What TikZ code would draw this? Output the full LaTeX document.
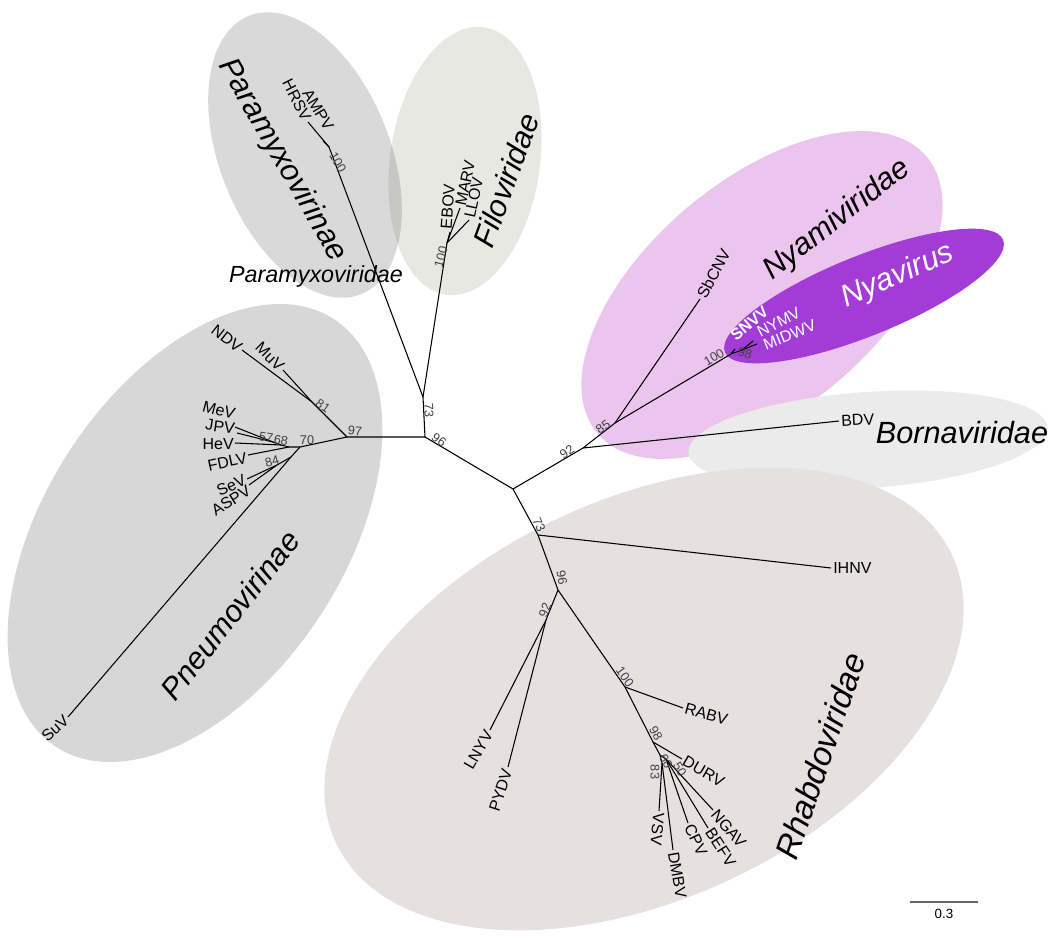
\documentclass[tikz,border=0pt]{standalone}
\usepackage{fontspec}
\setmainfont{Liberation Sans}
\usepackage{xcolor}
\definecolor{paragray}{RGB}{0,0,0}
\definecolor{filogray}{RGB}{110,110,80}
\definecolor{pneugray}{RGB}{215,215,215}
\definecolor{nyamipink}{RGB}{236,197,239}
\definecolor{nyapurple}{RGB}{163,60,214}
\definecolor{bornagray}{RGB}{235,235,235}
\definecolor{rhabdogray}{RGB}{230,225,224}

\begin{document}
\begin{tikzpicture}[x=0.75pt,y=0.75pt,yscale=-1,xscale=1,
  branch/.style={line width=0.8pt},
  leaf/.style={inner sep=1.5pt,font=\fontsize{12}{14}\selectfont},
  boot/.style={inner sep=0.5pt,text=black!75,font=\fontsize{9.5}{11}\selectfont},
  clade/.style={inner sep=0pt,font=\fontsize{23}{27}\selectfont\itshape}]
\useasboundingbox (0,0) rectangle (1048,942);

%Shape: Ellipse [Paramyxovirinae]
\fill [paragray,fill opacity=0.15,rotate around={68:(305,155)}] (305,155) ellipse (150 and 85);
%Shape: Ellipse [Filoviridae]
\fill [filogray,fill opacity=0.16,rotate around={98:(465,161)}] (465,161) ellipse (135 and 75);
%Shape: Ellipse [Pneumovirinae]
\fill [pneugray,rotate around={-57:(195,533)}] (195,533) ellipse (255 and 150);
%Shape: Ellipse [Nyamiviridae]
\fill [nyamipink,rotate around={-40:(762,295)}] (762,295) ellipse (215 and 115);
%Shape: Ellipse [Nyavirus]
\fill [nyapurple,rotate around={-22:(864,296)}] (864,296) ellipse (150 and 40);
%Shape: Ellipse [Bornaviridae]
\fill [bornagray,rotate around={-4:(868,440)}] (868,440) ellipse (180 and 48);
%Shape: Ellipse [Rhabdoviridae]
\fill [rhabdogray,rotate around={-25:(644,699)}] (644,699) ellipse (340 and 200);

%Tree nodes
\coordinate (root) at (513,489);
\coordinate (n96a) at (425,437);
\coordinate (n73a) at (423,397);
\coordinate (n100p) at (329,147);
\coordinate (n100f) at (447,243);
\coordinate (n97) at (347,437);
\coordinate (n81) at (312,402);
\coordinate (n70) at (300,447);
\coordinate (n68) at (289,447);
\coordinate (nhe) at (281,445);
\coordinate (n57) at (273,442);
\coordinate (psu) at (291,457);
\coordinate (n84) at (277,465);
\coordinate (n92r) at (583,448);
\coordinate (n85) at (615,423);
\coordinate (n100n) at (731,354);
\coordinate (n98n) at (742,350);
\coordinate (n73b) at (538,535);
\coordinate (n96b) at (558,590);
\coordinate (n92b) at (546,620);
\coordinate (n100r) at (625,687);
\coordinate (n98r) at (653,742);
\coordinate (n60) at (660,755);
\coordinate (n83) at (662,763);
\coordinate (n50) at (666,759);

%Tree leaves
\coordinate (hrsv) at (308,122);
\coordinate (ampv) at (323,141);
\coordinate (ebov) at (450,232);
\coordinate (marv) at (460,208);
\coordinate (llov) at (469,220);
\coordinate (ndv) at (242,350);
\coordinate (muv) at (283,370);
\coordinate (mev) at (235,427);
\coordinate (jpv) at (237,433);
\coordinate (hev) at (235,443);
\coordinate (fdlv) at (248,455);
\coordinate (sev) at (247,479);
\coordinate (aspv) at (249,485);
\coordinate (suv) at (68,717);
\coordinate (sbcnv) at (700,299);
\coordinate (snvv) at (735,349);
\coordinate (nymv) at (753,341);
\coordinate (midwv) at (757,344);
\coordinate (bdv) at (839,421);
\coordinate (ihnv) at (831,568);
\coordinate (rabv) at (683,708);
\coordinate (durv) at (682,759);
\coordinate (lnyv) at (490,730);
\coordinate (pydv) at (508,767);
\coordinate (vsv) at (659,811);
\coordinate (dmbv) at (673,850);
\coordinate (cpv) at (688,823);
\coordinate (befv) at (708,828);
\coordinate (ngav) at (713,810);

%Straight Lines [branches]
\draw [branch] (root) -- (n96a) -- (n97);
\draw [branch] (n96a) -- (n73a) -- (n100p) -- (hrsv);
\draw [branch] (n100p) -- (ampv);
\draw [branch] (n73a) -- (n100f) -- (ebov);
\draw [branch] (n100f) -- (marv);
\draw [branch] (n100f) -- (llov);
\draw [branch] (n97) -- (n81) -- (ndv);
\draw [branch] (n81) -- (muv);
\draw [branch] (n97) -- (n70) -- (n68) -- (fdlv);
\draw [branch] (n68) -- (nhe) -- (hev);
\draw [branch] (nhe) -- (n57) -- (mev);
\draw [branch] (n57) -- (jpv);
\draw [branch] (n70) -- (psu) -- (suv);
\draw [branch] (psu) -- (n84) -- (sev);
\draw [branch] (n84) -- (aspv);
\draw [branch] (root) -- (n92r) -- (bdv);
\draw [branch] (n92r) -- (n85) -- (sbcnv);
\draw [branch] (n85) -- (n100n) -- (snvv);
\draw [branch] (n100n) -- (n98n) -- (nymv);
\draw [branch] (n98n) -- (midwv);
\draw [branch] (root) -- (n73b) -- (ihnv);
\draw [branch] (n73b) -- (n96b) -- (n92b) -- (lnyv);
\draw [branch] (n92b) -- (pydv);
\draw [branch] (n96b) -- (n100r) -- (rabv);
\draw [branch] (n100r) -- (n98r) -- (durv);
\draw [branch] (n98r) -- (n60) -- (n83) -- (vsv);
\draw [branch] (n83) -- (dmbv);
\draw [branch] (n60) -- (n50) -- (cpv);
\draw [branch] (n50) -- (befv);
\draw [branch] (n50) -- (ngav);

% Text Node [leaves]
\node [leaf,anchor=east,rotate=-63] (lhrsv) at (hrsv) {HRSV};
\node [leaf,anchor=east,rotate=-59] (lampv) at (331,131) {AMPV};
\node [leaf,anchor=west,rotate=86] (lebov) at (446,231) {EBOV};
\node [leaf,anchor=west,rotate=78] (lmarv) at (marv) {MARV};
\node [leaf,anchor=west,rotate=78] (lllov) at (llov) {LLOV};
\node [leaf,anchor=east,rotate=-38] (lndv) at (ndv) {NDV};
\node [leaf,anchor=east,rotate=-45] (lmuv) at (muv) {MuV};
\node [leaf,anchor=east,rotate=-15] (lmev) at (237,415) {MeV};
\node [leaf,anchor=east,rotate=-8] (ljpv) at (237,429) {JPV};
\node [leaf,anchor=east] (lhev) at (236,444) {HeV};
\node [leaf,anchor=east,rotate=12] (lfdlv) at (249,457) {FDLV};
\node [leaf,anchor=east,rotate=25] (lsev) at (247,478) {SeV};
\node [leaf,anchor=east,rotate=32] (laspv) at (251,488) {ASPV};
\node [leaf,anchor=east,rotate=42] (lsuv) at (suv) {SuV};
\node [leaf,anchor=west,rotate=62] (lsbcnv) at (sbcnv) {SbCNV};
\node [leaf,anchor=west,rotate=40,text=white,font=\fontsize{12}{14}\selectfont\bfseries] (lsnvv) at (731,339) {SNVV};
\node [leaf,anchor=west,rotate=27,text=white] (lnymv) at (756,334) {NYMV};
\node [leaf,anchor=west,rotate=22,text=white] (lmidwv) at (762,346) {MIDWV};
\node [leaf,anchor=west,rotate=3] (lbdv) at (bdv) {BDV};
\node [leaf,anchor=west] (lihnv) at (ihnv) {IHNV};
\node [leaf,anchor=west,rotate=-15] (lrabv) at (rabv) {RABV};
\node [leaf,anchor=west,rotate=-30] (ldurv) at (durv) {DURV};
\node [leaf,anchor=east,rotate=60] (llnyv) at (lnyv) {LNYV};
\node [leaf,anchor=east,rotate=72] (lpydv) at (pydv) {PYDV};
\node [leaf,anchor=west,rotate=-95] (lvsv) at (vsv) {VSV};
\node [leaf,anchor=west,rotate=-80] (ldmbv) at (dmbv) {DMBV};
\node [leaf,anchor=west,rotate=-65] (lcpv) at (cpv) {CPV};
\node [leaf,anchor=west,rotate=-57] (lbefv) at (befv) {BEFV};
\node [leaf,anchor=west,rotate=-50] (lngav) at (ngav) {NGAV};

% Text Node [support values]
\node [boot,rotate=-60] (b100p) at (338,162) {100};
\node [boot,rotate=75] (b100f) at (441,257) {100};
\node [boot,rotate=-88] (b73a) at (429,410) {73};
\node [boot,rotate=-35] (b96a) at (439,440) {96};
\node [boot,rotate=-5] (b97) at (355,431) {97};
\node [boot,rotate=-35] (b81) at (323,406) {81};
\node [boot] (b70) at (307,440) {70};
\node [boot,rotate=-10] (b57) at (266,437) {57};
\node [boot,rotate=-10] (b68) at (281,440) {68};
\node [boot,rotate=15] (b84) at (272,461) {84};
\node [boot,rotate=35] (b92r) at (567,452) {92};
\node [boot,rotate=35] (b85) at (603,427) {85};
\node [boot,rotate=30] (b100n) at (714,357) {100};
\node [boot,rotate=-15] (b98n) at (745,353) {98};
\node [boot,rotate=-65] (b73b) at (539,525) {73};
\node [boot,rotate=-80] (b96b) at (562,578) {96};
\node [boot,rotate=70] (b92b) at (545,610) {92};
\node [boot,rotate=-55] (b100r) at (625,677) {100};
\node [boot,rotate=-60] (b98r) at (656,733) {98};
\node [boot,rotate=-60] (b60) at (666,761) {60};
\node [boot,rotate=-60] (b50) at (680,769) {50};
\node [boot,rotate=-90] (b83) at (655,772) {83};

% Text Node [clades]
\node [clade,rotate=-60] (tparavir) at (282,160) {Paramyxovirinae};
\node [clade,rotate=70] (tfilo) at (506,180) {Filoviridae};
\node [clade,font=\fontsize{17.5}{21}\selectfont\itshape] (tparavid) at (316,276) {Paramyxoviridae};
\node [clade,rotate=52] (tpneu) at (230,615) {Pneumovirinae};
\node [clade,rotate=38] (tnyami) at (837,220) {Nyamiviridae};
\node [clade,rotate=24,text=white] (tnya) at (898,276) {Nyavirus};
\node [clade] (tborna) at (962,433) {Bornaviridae};
\node [clade,rotate=71,font=\fontsize{25}{29}\selectfont\itshape] (trhabdo) at (820,756) {Rhabdoviridae};

%Scale bar
\coordinate (sbl) at (910,902);
\coordinate (sbr) at (978,902);
\draw [line width=1.5pt,black!60] (sbl) -- (sbr);
\node [boot,text=black,font=\fontsize{10}{12}\selectfont] (tscale) at (944,914) {0.3};

\end{tikzpicture}
\end{document}
